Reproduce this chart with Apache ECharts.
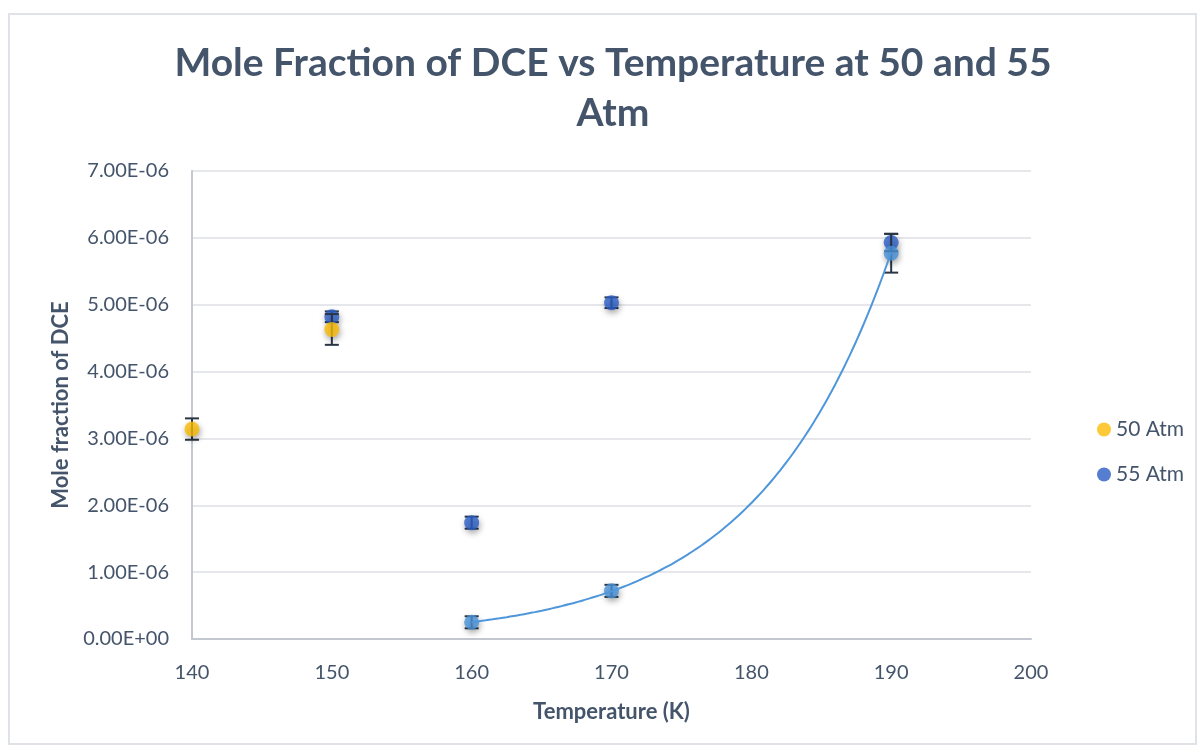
<!DOCTYPE html>
<html>
<head>
<meta charset="utf-8">
<script src="https://cdn.jsdelivr.net/npm/echarts@6/dist/echarts.min.js"></script>
<style>
  html, body { margin: 0; padding: 0; background: #fff; }
  #frame { position: absolute; left: 8px; top: 13px; width: 1189px; height: 732px; border: 2px solid #dfe3e8; box-sizing: border-box; }
  #chart { position: absolute; left: 0; top: 0; width: 1199px; height: 747px; }
</style>
</head>
<body>
<div id="frame"></div>
<div id="chart"></div>
<script>
// Measured mole fractions of DCE (with error half-widths) by temperature
const temps50 = [140, 150];
const values50 = [3.14e-6, 4.63e-6];
const err50 = [0.16e-6, 0.23e-6];

const temps55 = [150, 160, 170, 190];
const values55 = [4.82e-6, 1.74e-6, 5.03e-6, 5.93e-6];
const err55 = [0.08e-6, 0.09e-6, 0.08e-6, 0.13e-6];

// Points used for the exponential trendline
const tempsFit = [160, 170, 190];
const valuesFit = [0.25e-6, 0.72e-6, 5.77e-6];
const errFit = [0.09e-6, 0.09e-6, 0.29e-6];

const xTicks = { min: 140, max: 200, step: 10 };
const yTicks = { min: 0, max: 7e-6, step: 1e-6 };

// Least-squares exponential fit y = a * exp(b * x) through the trend points
function expFit(xs, ys) {
  const n = xs.length;
  const ly = ys.map(Math.log);
  const mx = xs.reduce((s, v) => s + v, 0) / n;
  const my = ly.reduce((s, v) => s + v, 0) / n;
  let sxy = 0, sxx = 0;
  for (let i = 0; i < n; i++) { sxy += (xs[i] - mx) * (ly[i] - my); sxx += (xs[i] - mx) ** 2; }
  const b = sxy / sxx;
  const lnA = my - b * mx;
  return x => Math.exp(lnA + b * x);
}
const fit = expFit(tempsFit, valuesFit);
const trend = [];
for (let x = tempsFit[0]; x <= tempsFit[tempsFit.length - 1] + 1e-9; x += 0.5) trend.push([x, fit(x)]);

function sci(v) {
  if (Math.abs(v) < 1e-15) return '0.00E+00';
  const s = v.toExponential(2).toUpperCase();
  const m = s.match(/^(-?[\d.]+)E([+-])(\d+)$/);
  return m[1] + 'E' + m[2] + m[3].padStart(2, '0');
}

const pairs = (xs, ys) => xs.map((x, i) => [x, ys[i]]);
const errData = (xs, ys, es) => xs.map((x, i) => [x, ys[i] - es[i], ys[i] + es[i]]);

function errorBars(name, data) {
  return {
    type: 'custom', name: name, silent: true, data: data,
    encode: { x: 0, y: [1, 2] },
    renderItem: function (params, api) {
      const x = api.value(0);
      const lo = api.coord([x, api.value(1)]);
      const hi = api.coord([x, api.value(2)]);
      const hw = 7;
      const style = { stroke: '#2b3645', lineWidth: 2 };
      return {
        type: 'group',
        children: [
          { type: 'line', shape: { x1: lo[0], y1: lo[1], x2: hi[0], y2: hi[1] }, style: style },
          { type: 'line', shape: { x1: lo[0] - hw, y1: lo[1], x2: lo[0] + hw, y2: lo[1] }, style: style },
          { type: 'line', shape: { x1: hi[0] - hw, y1: hi[1], x2: hi[0] + hw, y2: hi[1] }, style: style }
        ]
      };
    }
  };
}

const markerShadow = { shadowBlur: 6, shadowColor: 'rgba(0,0,0,0.45)', shadowOffsetX: 1, shadowOffsetY: 3 };
const FONT = 'Lato, "Open Sans", sans-serif';
const TEXT = '#44546a';

const chart = echarts.init(document.getElementById('chart'), null, { renderer: 'canvas' });
chart.setOption({
  animation: false,
  backgroundColor: 'transparent',
  title: {
    text: 'Mole Fraction of DCE vs Temperature at 50 and 55\nAtm',
    left: 608, top: 33, textAlign: 'center',
    textStyle: { fontFamily: FONT, fontSize: 39, fontWeight: 'bold', color: TEXT, lineHeight: 50 }
  },
  legend: {
    data: ['50 Atm', '55 Atm'],
    orient: 'vertical', left: 1092, top: 414,
    itemWidth: 14, itemHeight: 14, itemGap: 24,
    icon: 'circle',
    textStyle: { fontFamily: FONT, fontSize: 21, color: TEXT }
  },
  grid: { left: 192, right: 168, top: 171, bottom: 108 },
  xAxis: {
    type: 'value', min: xTicks.min, max: xTicks.max, interval: xTicks.step,
    name: 'Temperature (K)', nameLocation: 'middle', nameGap: 62,
    nameTextStyle: { fontFamily: FONT, fontSize: 22, fontWeight: 'bold', color: TEXT },
    axisLine: { onZero: false, lineStyle: { color: '#c3c8d0', width: 2 } },
    axisTick: { show: false },
    splitLine: { show: false },
    axisLabel: { fontFamily: FONT, fontSize: 20, color: TEXT, margin: 24 }
  },
  yAxis: {
    type: 'value', min: yTicks.min, max: yTicks.max, interval: yTicks.step,
    name: 'Mole fraction of DCE', nameLocation: 'middle', nameGap: 116, nameRotate: 90,
    nameTextStyle: { fontFamily: FONT, fontSize: 22, fontWeight: 'bold', color: TEXT },
    axisLine: { show: true, lineStyle: { color: '#c3c8d0', width: 2 } },
    axisTick: { show: false },
    splitLine: { lineStyle: { color: '#dcdfe3', width: 1.5 } },
    axisLabel: { fontFamily: FONT, fontSize: 20, color: TEXT, margin: 23, formatter: sci }
  },
  series: [
    {
      type: 'scatter', name: '55 Atm', data: pairs(temps55, values55), symbolSize: 15, z: 3,
      itemStyle: Object.assign({ color: '#2a5ec6' }, markerShadow)
    },
    Object.assign(errorBars('55 Atm', errData(temps55, values55, err55)), { z: 2 }),
    {
      type: 'scatter', name: '50 Atm', data: pairs(temps50, values50), symbolSize: 15, z: 5,
      itemStyle: Object.assign({ color: '#fbbd08' }, markerShadow)
    },
    Object.assign(errorBars('50 Atm', errData(temps50, values50, err50)), { z: 4 }),
    Object.assign(errorBars('Trend points', errData(tempsFit, valuesFit, errFit)), { z: 6 }),
    {
      type: 'scatter', name: 'Trend points', data: pairs(tempsFit, valuesFit), symbolSize: 15, z: 7,
      itemStyle: Object.assign({ color: '#4a92d8' }, markerShadow)
    },
    {
      type: 'line', name: 'Trendline', data: trend, showSymbol: false, smooth: true, z: 8,
      lineStyle: { color: '#4f97da', width: 2 }
    }
  ]
});
</script>
</body>
</html>
